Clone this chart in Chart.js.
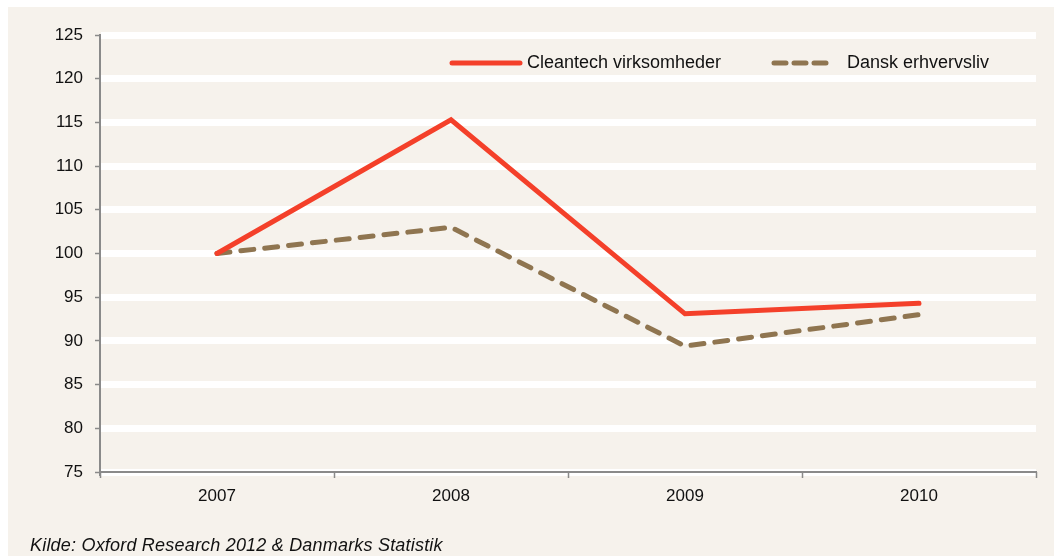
<!DOCTYPE html>
<html>
<head>
<meta charset="utf-8">
<script src="https://cdn.jsdelivr.net/npm/chart.js@4"></script>
<style>
  body { margin: 0; background: #fff; font-family: "Liberation Sans", Arial, sans-serif; }
  #panel { position: absolute; left: 8px; top: 7px; width: 1046px; height: 549px; background: #F6F2EC; }
  #wrap { position: absolute; left: 0; top: 0; width: 1054px; height: 556px; }
  #source { position: absolute; left: 30px; top: 535px; font-size: 18px; font-style: italic; color: #111; letter-spacing: 0.2px; }
</style>
</head>
<body>
<div id="panel"></div>
<div id="wrap"><canvas id="chLine" width="1054" height="556"></canvas></div>
<div id="source">Kilde: Oxford Research 2012 &amp; Danmarks Statistik</div>
<script>
var years = ['2007', '2008', '2009', '2010'];
var cleantech = [100, 115.3, 93.1, 94.3];
var dansk = [100, 103.0, 89.4, 93.0];
var seriesNames = ['Cleantech virksomheder', 'Dansk erhvervsliv'];
var colors = ['#F4402A', '#8F7550'];

// legend drawn inside the plot, top right
var legendInside = {
    id: 'legendInside',
    afterDatasetsDraw: function (chart) {
        var ctx = chart.ctx;
        var y = 63;
        ctx.save();
        ctx.lineCap = 'round';
        ctx.lineWidth = 5;
        ctx.strokeStyle = colors[0];
        ctx.beginPath();
        ctx.moveTo(452, y);
        ctx.lineTo(520, y);
        ctx.stroke();
        ctx.strokeStyle = colors[1];
        ctx.setLineDash([12, 8]);
        ctx.beginPath();
        ctx.moveTo(774, y);
        ctx.lineTo(828, y);
        ctx.stroke();
        ctx.setLineDash([]);
        ctx.fillStyle = '#111';
        ctx.font = '18px "Liberation Sans", Arial, sans-serif';
        ctx.textBaseline = 'middle';
        ctx.fillText(seriesNames[0], 527, y);
        ctx.fillText(seriesNames[1], 847, y);
        ctx.restore();
    }
};

// category boundary tick marks under the x axis
var xTickMarks = {
    id: 'xTickMarks',
    afterDraw: function (chart) {
        var sx = chart.scales.x;
        var ctx = chart.ctx;
        var step = (sx.right - sx.left) / years.length;
        ctx.save();
        ctx.strokeStyle = '#8a8a8a';
        ctx.lineWidth = 1.5;
        for (var i = 0; i <= years.length; i++) {
            var x = Math.round(sx.left + i * step) + 0.5;
            ctx.beginPath();
            ctx.moveTo(x, sx.top);
            ctx.lineTo(x, sx.top + 6);
            ctx.stroke();
        }
        ctx.restore();
    }
};

var chLine = document.getElementById('chLine').getContext('2d');
new Chart(chLine, {
    type: 'line',
    data: {
        labels: years,
        datasets: [{
            label: seriesNames[0],
            data: cleantech,
            borderColor: colors[0],
            backgroundColor: colors[0],
            borderWidth: 5,
            pointRadius: 0,
            tension: 0,
            borderCapStyle: 'round',
            borderJoinStyle: 'miter'
        }, {
            label: seriesNames[1],
            data: dansk,
            borderColor: colors[1],
            backgroundColor: colors[1],
            borderWidth: 5,
            borderDash: [13, 11],
            borderCapStyle: 'round',
            pointRadius: 0,
            tension: 0
        }]
    },
    options: {
        responsive: false,
        animation: false,
        layout: { padding: { top: 35, right: 18, bottom: 40, left: 0 } },
        plugins: { legend: { display: false }, tooltip: { enabled: false } },
        scales: {
            x: {
                offset: true,
                afterFit: function (scale) { scale.height = 44; },
                grid: { offset: true, display: true, drawOnChartArea: false, drawTicks: false },
                border: { color: '#8a8a8a', width: 2 },
                ticks: { color: '#111', padding: 14, font: { size: 17, family: '"Liberation Sans", Arial, sans-serif' } }
            },
            y: {
                min: 75,
                max: 125,
                afterFit: function (scale) { scale.width = 100; },
                grid: { color: '#ffffff', lineWidth: 7, tickColor: '#8a8a8a', tickLength: 5, tickWidth: 1.5 },
                border: { color: '#8a8a8a', width: 2 },
                ticks: { stepSize: 5, color: '#111', padding: 12, font: { size: 17, family: '"Liberation Sans", Arial, sans-serif' } }
            }
        }
    },
    plugins: [legendInside, xTickMarks]
});
</script>
</body>
</html>
